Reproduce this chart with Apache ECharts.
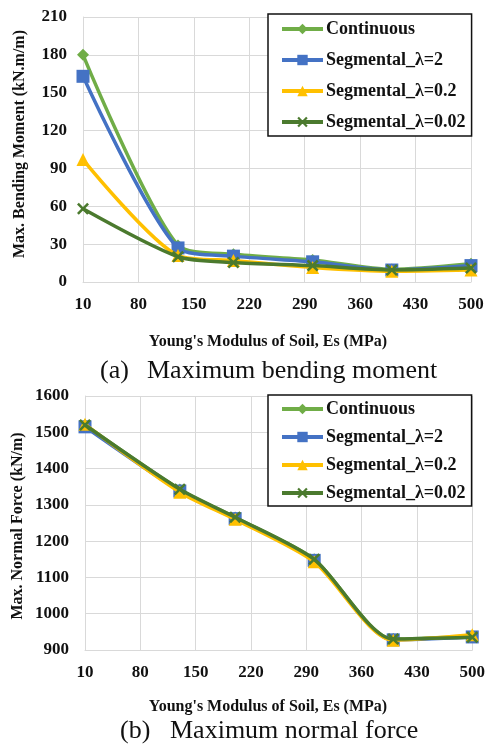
<!DOCTYPE html>
<html>
<head>
<meta charset="utf-8">
<script src="https://cdn.jsdelivr.net/npm/echarts@6/dist/echarts.min.js"></script>
<style>
html,body{margin:0;padding:0;background:#fff;}
#c{width:488px;height:746px;}
</style>
</head>
<body>
<div id="c"></div>
<script>
// ---- data ----
const xValues = [10, 130, 200, 300, 400, 500];
const seriesNames = ['Continuous', 'Segmental_λ=2', 'Segmental_λ=0.2', 'Segmental_λ=0.02'];
// (a) Maximum bending moment (kN.m/m)
const momentContinuous = [180, 29, 22, 17.5, 10, 14.5];
const momentSeg2 = [163, 27, 20.5, 16, 9.5, 13];
const momentSeg02 = [97, 21, 17, 11.5, 8.5, 9.5];
const momentSeg002 = [58, 20, 15.5, 13, 9.5, 11];
// (b) Maximum normal force (kN/m)
const normalContinuous = [1520, 1342, 1265, 1150, 930, 938];
const normalSeg2 = [1515, 1338, 1262, 1147, 928, 936];
const normalSeg02 = [1522, 1335, 1260, 1143, 927, 942];
const normalSeg002 = [1520, 1343, 1266, 1150, 930, 935];
// texts
const yTitleA = 'Max. Bending Moment (kN.m/m)';
const yTitleB = 'Max. Normal Force (kN/m)';
const xTitle = "Young's Modulus of Soil, Es (MPa)";
const captionA = ['(a)', 'Maximum bending moment'];
const captionB = ['(b)', 'Maximum normal force'];

const FONT = "'Liberation Serif','Times New Roman',serif";
const colors = ['#70AD47', '#4472C4', '#FFC000', '#4B7A2E'];
const xShape = 'path://M0,1.5 L1.5,0 L5,3.5 L8.5,0 L10,1.5 L6.5,5 L10,8.5 L8.5,10 L5,6.5 L1.5,10 L0,8.5 L3.5,5 Z';
const symbols = ['diamond', 'rect', 'triangle', xShape];
const symSizes = [12, 13, 13, 12];

function pairs(arr) { return xValues.map((x, i) => [x, arr[i]]); }

function makeSeries(dataArrs, gi) {
  return dataArrs.map((arr, i) => ({
    name: seriesNames[i],
    type: 'line',
    xAxisIndex: gi, yAxisIndex: gi,
    data: pairs(arr),
    smooth: 0.25,
    symbol: symbols[i],
    symbolSize: symSizes[i],
    showSymbol: true,
    lineStyle: { color: colors[i], width: 3.5 },
    itemStyle: { color: colors[i] },
    emphasis: { disabled: true },
    z: 2 + i
  }));
}

const gridA = { left: 83, top: 17, width: 388, height: 265 };
const gridB = { left: 85, top: 396, width: 388, height: 254 };

function xAxisCfg(gi) {
  return {
    type: 'value', gridIndex: gi, min: 10, max: 500, interval: 70,
    axisLine: { show: true, lineStyle: { color: '#d9d9d9', width: 1 } },
    axisTick: { show: false },
    splitLine: { show: true, lineStyle: { color: '#d9d9d9', width: 1 } },
    axisLabel: { color: '#111', fontFamily: FONT, fontWeight: 'bold', fontSize: 17, margin: 14 }
  };
}
function yAxisCfg(gi, min, max, interval) {
  return {
    type: 'value', gridIndex: gi, min: min, max: max, interval: interval,
    axisLine: { show: true, lineStyle: { color: '#d9d9d9', width: 1 } },
    axisTick: { show: false },
    splitLine: { show: true, lineStyle: { color: '#d9d9d9', width: 1 } },
    axisLabel: { color: '#111', fontFamily: FONT, fontWeight: 'bold', fontSize: 17, margin: 16,
      formatter: v => String(v) }
  };
}
function legendCfg(top, gap, pad) {
  return {
    orient: 'vertical', left: 268, top: top,
    data: seriesNames,
    itemWidth: 41, itemHeight: 13, itemGap: gap,
    padding: pad,
    borderColor: '#111', borderWidth: 1.5,
    backgroundColor: '#fff',
    selectedMode: false,
    lineStyle: { width: 4 },
    textStyle: { color: '#111', fontFamily: FONT, fontWeight: 'bold', fontSize: 18, lineHeight: 20, padding: [0, 0, 0, -2] }
  };
}

function txt(x, y, text, size, weight, align, rot) {
  return {
    type: 'text', x: x, y: y, rotation: rot || 0,
    style: { text: text, fill: '#111', font: (weight || 'normal') + ' ' + size + 'px ' + FONT,
      align: align || 'center', verticalAlign: 'middle' }
  };
}

const chart = echarts.init(document.getElementById('c'), null, { renderer: 'canvas' });
chart.setOption({
  animation: false,
  color: colors,
  grid: [gridA, gridB],
  xAxis: [xAxisCfg(0), xAxisCfg(1)],
  yAxis: [yAxisCfg(0, 0, 210, 30), yAxisCfg(1, 900, 1600, 100)],
  legend: [legendCfg(14, 11, [5, 6, 4, 12]), legendCfg(395, 8, [4, 6, 3, 12])],
  series: makeSeries([momentContinuous, momentSeg2, momentSeg02, momentSeg002], 0)
    .concat(makeSeries([normalContinuous, normalSeg2, normalSeg02, normalSeg002], 1)),
  graphic: [
    txt(20, 144, yTitleA, 16, 'bold', 'center', Math.PI / 2),
    txt(18, 526, yTitleB, 16, 'bold', 'center', Math.PI / 2),
    txt(268, 342, xTitle, 16, 'bold'),
    txt(268, 707, xTitle, 16, 'bold'),
    txt(100, 371, captionA[0], 26, 'normal', 'left'),
    txt(147, 371, captionA[1], 26, 'normal', 'left'),
    txt(120, 731, captionB[0], 26, 'normal', 'left'),
    txt(170, 731, captionB[1], 26, 'normal', 'left')
  ]
});
</script>
</body>
</html>
